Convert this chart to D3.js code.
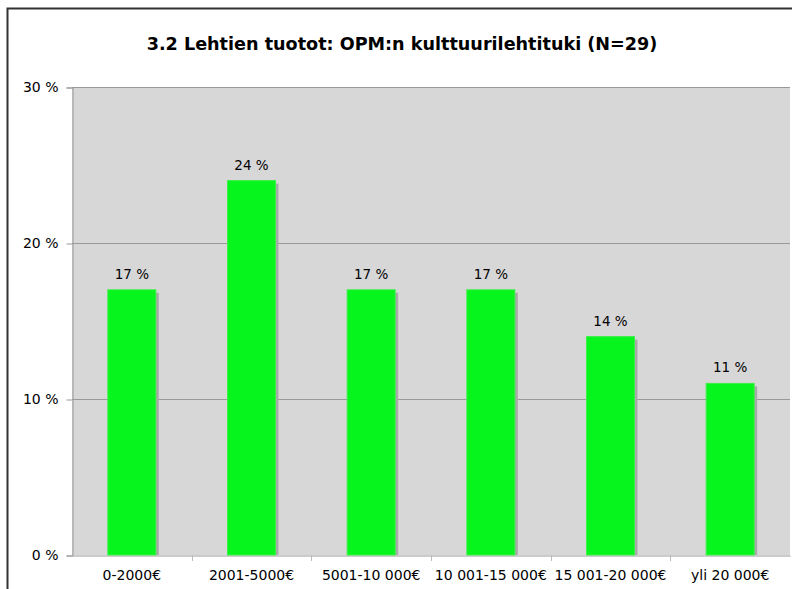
<!DOCTYPE html>
<html>
<head>
<meta charset="utf-8">
<script src="https://cdn.jsdelivr.net/npm/d3@7.9.0/dist/d3.min.js"></script>
<style>
  body { margin: 0; background: #fff; }
  svg { display: block; font-family: "DejaVu Sans", Verdana, sans-serif; }
</style>
</head>
<body>
<div id="chart"></div>
<script>
const categories = ['0-2000€', '2001-5000€', '5001-10 000€', '10 001-15 000€', '15 001-20 000€', 'yli 20 000€'];
const values = [17, 24, 17, 17, 14, 11];
const yTicks = [0, 10, 20, 30];
const title = '3.2 Lehtien tuotot: OPM:n kulttuurilehtituki (N=29)';

const width = 792;
const height = 589;
const margin = { left: 72, right: 2, top: 87, bottom: 34 };
const fontFam = '"DejaVu Sans", Verdana, sans-serif';

const svg = d3.select('#chart')
  .append('svg')
  .attr('width', width)
  .attr('height', height);

// frame
svg.append('path')
  .attr('d', `M7.5,${height} V8.5 H${width}`)
  .attr('fill', 'none')
  .attr('stroke', '#333')
  .attr('stroke-width', 2);

const x = d3.scaleBand()
  .domain(categories)
  .range([margin.left, width - margin.right]);

const y = d3.scaleLinear()
  .domain([0, 30])
  .range([height - margin.bottom, margin.top]);

// plot background
svg.append('rect')
  .attr('x', margin.left)
  .attr('y', y(30))
  .attr('width', width - margin.right - margin.left)
  .attr('height', y(0) - y(30))
  .attr('fill', '#d7d7d7');

// grid lines
svg.append('g')
  .selectAll('line')
  .data(yTicks.filter(d => d > 0))
  .join('line')
  .attr('x1', margin.left)
  .attr('x2', width - margin.right)
  .attr('y1', d => Math.round(y(d)) + 0.5)
  .attr('y2', d => Math.round(y(d)) + 0.5)
  .attr('stroke', '#999');

// y axis
const yAxis = svg.append('g')
  .attr('transform', `translate(${margin.left + 0.5},0.5)`)
  .call(d3.axisLeft(y).tickValues(yTicks).tickSize(6).tickPadding(8)
    .tickFormat(d => `${d} %`))
  .attr('font-size', 14)
  .attr('font-family', fontFam);
yAxis.select('.domain').attr('stroke', '#999');
yAxis.selectAll('.tick line').attr('stroke', '#999');
yAxis.selectAll('.tick text')
  .attr('fill', '#000')
  .attr('dy', '0.3em');

// x axis
const xAxis = svg.append('g')
  .attr('transform', `translate(0,${Math.round(y(0)) + 0.5})`)
  .call(d3.axisBottom(x).tickSize(0).tickPadding(15))
  .attr('font-size', 14)
  .attr('font-family', fontFam);
xAxis.select('.domain').attr('stroke', '#999');
xAxis.selectAll('.tick text')
  .attr('fill', '#000');

// category separators
svg.append('g')
  .selectAll('line')
  .data(categories.slice(1))
  .join('line')
  .attr('x1', d => Math.round(x(d)) + 0.5)
  .attr('x2', d => Math.round(x(d)) + 0.5)
  .attr('y1', y(0))
  .attr('y2', y(0) + 6)
  .attr('stroke', '#bbb');

const barW = 48;
const bars = svg.append('g');

// shadow
bars.selectAll('rect.shadow')
  .data(values)
  .join('rect')
  .attr('class', 'shadow')
  .attr('x', (d, i) => x(categories[i]) + x.bandwidth() / 2 - barW / 2 + 3)
  .attr('y', d => y(d) + 3)
  .attr('width', barW)
  .attr('height', d => y(0) - y(d) - 3)
  .attr('fill', '#a9a9a9');

bars.selectAll('rect.bar')
  .data(values)
  .join('rect')
  .attr('class', 'bar')
  .attr('x', (d, i) => x(categories[i]) + x.bandwidth() / 2 - barW / 2)
  .attr('y', d => y(d))
  .attr('width', barW)
  .attr('height', d => y(0) - y(d))
  .attr('fill', '#05f51c')
  .attr('stroke', '#3cf048')
  .attr('stroke-width', 1);

// value labels
svg.append('g')
  .selectAll('text')
  .data(values)
  .join('text')
  .attr('x', (d, i) => x(categories[i]) + x.bandwidth() / 2)
  .attr('y', d => y(d) - 11)
  .attr('text-anchor', 'middle')
  .attr('font-size', 13.5)
  .text(d => `${d} %`);

// title
svg.append('text')
  .attr('x', 402)
  .attr('y', 50)
  .attr('text-anchor', 'middle')
  .attr('font-size', 17.6)
  .attr('font-weight', 'bold')
  .text(title);
</script>
</body>
</html>
